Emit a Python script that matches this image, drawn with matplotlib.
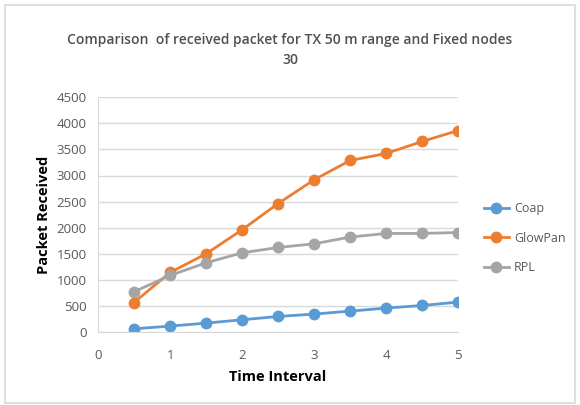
import matplotlib.pyplot as plt
from matplotlib.patches import Rectangle

time_interval = [0.5, 1, 1.5, 2, 2.5, 3, 3.5, 4, 4.5, 5]
coap = [63, 115, 172, 236, 300, 345, 402, 460, 510, 575]
glowpan = [567, 1142, 1500, 1960, 2463, 2918, 3288, 3422, 3652, 3862]
rpl = [772, 1085, 1328, 1519, 1621, 1692, 1820, 1890, 1890, 1908]

series = [("Coap", coap, "#5b9bd5"), ("GlowPan", glowpan, "#ed7d31"), ("RPL", rpl, "#a5a5a5")]

plt.rcParams['font.family'] = ['Open Sans', 'DejaVu Sans']

fig = plt.figure(figsize=(5.8, 4.05), dpi=100)
fig.patches.append(Rectangle((0.009, 0.006), 0.982, 0.982, transform=fig.transFigure,
                             fill=False, edgecolor="#d9d9d9", linewidth=1.2))
ax = fig.add_axes([0.169, 0.180, 0.621, 0.580])

for name, vals, col in series:
    ax.plot(time_interval, vals, color=col, marker="o", markersize=7.5, linewidth=2, label=name)

ax.set_xlim(0, 5)
ax.set_ylim(0, 4500)
ax.set_xticks(range(6))
ax.set_yticks(range(0, 4501, 500))
ax.grid(axis="y", color="#d9d9d9", linewidth=1)
ax.set_axisbelow(True)
for s in ["top", "right"]:
    ax.spines[s].set_visible(False)
for s in ["left", "bottom"]:
    ax.spines[s].set_color("#d9d9d9")
ax.tick_params(length=0, colors="#595959", labelsize=9.5, pad=8)
ax.tick_params(axis="x", pad=12)

ax.set_xlabel("Time Interval", fontsize=10.5, fontweight="bold", labelpad=6)
ax.set_ylabel("Packet Received", fontsize=10.5, fontweight="bold", labelpad=4)
fig.text(0.5, 0.918, "Comparison  of received packet for TX 50 m range and Fixed nodes\n30",
         ha="center", va="top", fontsize=10, fontweight="semibold", color="#505050",
         linespacing=1.5)

ax.legend(loc="center left", bbox_to_anchor=(1.04, 0.40), frameon=False,
          fontsize=9, labelcolor="#595959", labelspacing=1.3, handlelength=2.0,
          handletextpad=0.4)

fig.savefig("out.png", dpi=100)
